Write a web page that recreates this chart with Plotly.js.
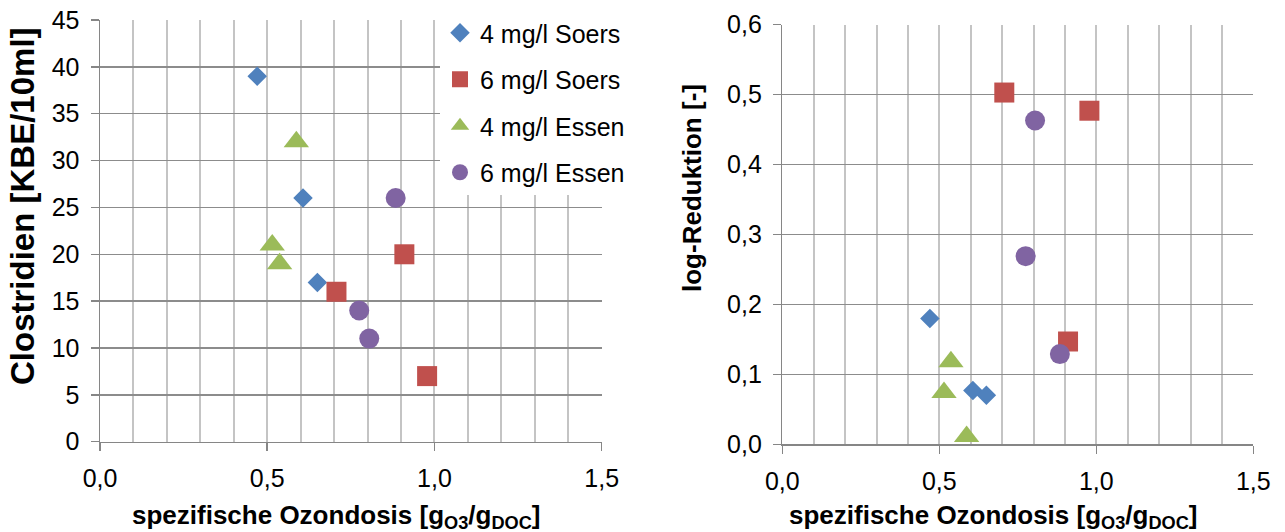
<!DOCTYPE html>
<html><head><meta charset="utf-8">
<script src="https://cdn.plot.ly/plotly-3.0.1.min.js"></script>
<style>html,body{margin:0;padding:0;background:#fff}#chart{width:1285px;height:532px}</style>
</head><body><div id="chart"></div>
<script>
// ---- data ----
const seriesNames = ['4 mg/l Soers', '6 mg/l Soers', '4 mg/l Essen', '6 mg/l Essen'];
const soers4Dose = [0.47, 0.607, 0.65];
const soers4Clostridien = [39, 26, 17];
const soers4LogRed = [0.18, 0.077, 0.07];
const soers6Dose = [0.707, 0.91, 0.978];
const soers6Clostridien = [16, 20, 7];
const soers6LogRed = [0.503, 0.147, 0.477];
const essen4Dose = [0.515, 0.537, 0.587];
const essen4Clostridien = [21, 19, 32];
const essen4LogRed = [0.074, 0.118, 0.011];
const essen6Dose = [0.775, 0.805, 0.884];
const essen6Clostridien = [14, 11, 26];
const essen6LogRed = [0.269, 0.463, 0.129];

const FONT = 'Liberation Sans, Arial, sans-serif';
const colors = ['#4F81BD', '#C0504D', '#9BBB59', '#8064A2'];
const symbols = ['diamond', 'square', 'triangle-up', 'circle'];
const sizes = [15, 20, 22, 20];
const doses = [soers4Dose, soers6Dose, essen4Dose, essen6Dose];
const clos = [soers4Clostridien, soers6Clostridien, essen4Clostridien, essen6Clostridien];
const logs = [soers4LogRed, soers6LogRed, essen4LogRed, essen6LogRed];

const traces = [];
for (let i = 0; i < 4; i++) {
  traces.push({
    type: 'scatter', mode: 'markers', name: seriesNames[i], legendgroup: 'g' + i,
    x: doses[i], y: clos[i], xaxis: 'x', yaxis: 'y', cliponaxis: false,
    marker: {symbol: symbols[i], size: sizes[i], color: colors[i], line: {width: 0}}
  });
}
for (let i = 0; i < 4; i++) {
  traces.push({
    type: 'scatter', mode: 'markers', name: seriesNames[i], legendgroup: 'g' + i, showlegend: false,
    x: doses[i], y: logs[i], xaxis: 'x2', yaxis: 'y2', cliponaxis: false,
    marker: {symbol: symbols[i], size: sizes[i], color: colors[i], line: {width: 0}}
  });
}

const W = 1285, H = 532;
const tickFont = {family: FONT, size: 25, color: '#000'};
function xAxis(d0, d1, anchor) {
  return {
    domain: [d0 / W, d1 / W], anchor: anchor, range: [0, 1.5], tick0: 0, dtick: 0.5, tickformat: '.1f',
    showgrid: true, gridcolor: '#c4c4c4', gridwidth: 2,
    minor: {tick0: 0, dtick: 0.1, showgrid: true, gridcolor: '#c4c4c4', gridwidth: 2, ticks: ''},
    showline: true, linecolor: '#868686', linewidth: 1.5,
    ticks: 'outside', ticklen: 8, tickwidth: 1.5, tickcolor: '#868686',
    zeroline: false, tickfont: tickFont, fixedrange: true, ticklabelstandoff: 6
  };
}
function yAxis(top, bottom, anchor, range, dtick, fmt) {
  return {
    domain: [1 - bottom / H, 1 - top / H], anchor: anchor, range: range, dtick: dtick, tick0: 0,
    tickformat: fmt, showgrid: true, gridcolor: '#8c8c8c', gridwidth: 1.5,
    showline: true, linecolor: '#868686', linewidth: 1.5,
    ticks: 'outside', ticklen: 8, tickwidth: 1.5, tickcolor: '#868686',
    zeroline: false, tickfont: tickFont, fixedrange: true, ticklabelstandoff: 6
  };
}

const layout = {
  width: W, height: H, margin: {l: 0, r: 0, t: 0, b: 0},
  paper_bgcolor: '#fff', plot_bgcolor: '#fff',
  separators: ',.', font: {family: FONT, color: '#000'},
  xaxis: xAxis(100, 601.7, 'y'),
  yaxis: yAxis(20, 441.7, 'x', [0, 45], 5, 'd'),
  xaxis2: xAxis(782.3, 1253.3, 'y2'),
  yaxis2: yAxis(24.7, 444.3, 'x2', [0, 0.6], 0.1, '.1f'),
  showlegend: true,
  legend: {
    x: 440 / W, xanchor: 'left', y: 1 - 10 / H, yanchor: 'top',
    bgcolor: '#ffffff', borderwidth: 0, font: {family: FONT, size: 25, color: '#000'},
    traceorder: 'grouped', tracegroupgap: 11, itemclick: false, itemdoubleclick: false
  },
  annotations: [
    {text: '<b>spezifische Ozondosis [g<sub>O3</sub>/g<sub>DOC</sub>]</b>', xref: 'paper', yref: 'paper',
     x: 336 / W, y: 1 - 516 / H, xanchor: 'center', yanchor: 'middle', showarrow: false,
     font: {family: FONT, size: 26, color: '#000'}},
    {text: '<b>spezifische Ozondosis [g<sub>O3</sub>/g<sub>DOC</sub>]</b>', xref: 'paper', yref: 'paper',
     x: 993 / W, y: 1 - 516 / H, xanchor: 'center', yanchor: 'middle', showarrow: false,
     font: {family: FONT, size: 26, color: '#000'}},
    {text: '<b>Clostridien [KBE/10ml]</b>', xref: 'paper', yref: 'paper', textangle: -90,
     x: 22 / W, y: 1 - 206 / H, xanchor: 'center', yanchor: 'middle', showarrow: false,
     font: {family: FONT, size: 33, color: '#000'}},
    {text: '<b>log-Reduktion [-]</b>', xref: 'paper', yref: 'paper', textangle: -90,
     x: 692 / W, y: 1 - 188 / H, xanchor: 'center', yanchor: 'middle', showarrow: false,
     font: {family: FONT, size: 26, color: '#000'}}
  ]
};

Plotly.newPlot('chart', traces, layout, {staticPlot: true, displayModeBar: false});
</script>
</body></html>
